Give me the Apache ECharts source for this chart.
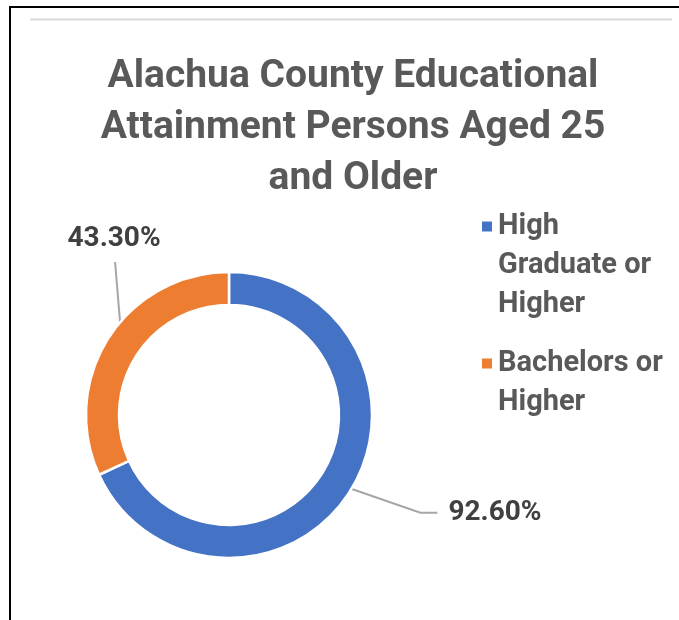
<!DOCTYPE html>
<html>
<head>
<meta charset="utf-8">
<script src="https://cdn.jsdelivr.net/npm/echarts@6/dist/echarts.min.js"></script>
<style>
  html, body { margin: 0; padding: 0; background: #fff; }
  #main { width: 679px; height: 620px; }
</style>
</head>
<body>
<div id="main"></div>
<script>
// data
const categories = ['High Graduate or Higher', 'Bachelors or Higher']
const legendLines = [['High', 'Graduate or', 'Higher'], ['Bachelors or', 'Higher']]
const values = [92.6, 43.3]
const valueLabels = ['92.60%', '43.30%']
const colors = ['#4472C4', '#ED7D31']

const chart = echarts.init(document.getElementById('main'))

const font = 'Roboto'
const legendLineH = 39

// legend icon sits on the first text line: pad with blank lines above
function legendFor(i, top) {
  const lines = legendLines[i]
  const pad = new Array(lines.length - 1).fill(' ')
  return {
    data: [categories[i]],
    left: 475,
    top: top,
    orient: 'vertical',
    selectedMode: false,
    icon: 'rect',
    itemWidth: 12,
    itemHeight: 12,
    formatter: () => pad.concat(lines).join('\n'),
    textStyle: {
      fontFamily: font,
      fontWeight: 'bold',
      fontSize: 29,
      lineHeight: legendLineH,
      color: '#595959'
    }
  }
}

chart.setOption({
  backgroundColor: '#fff',
  color: colors,
  animation: false,
  title: {
    text: 'Alachua County Educational\nAttainment Persons Aged 25\nand Older',
    left: 348,
    top: 47,
    textAlign: 'center',
    textStyle: {
      fontFamily: font,
      fontWeight: 'bold',
      fontSize: 39,
      lineHeight: 51,
      color: '#595959'
    }
  },
  legend: [legendFor(0, 124), legendFor(1, 300)],
  graphic: [
    { type: 'line', shape: { x1: 9, y1: 7, x2: 679, y2: 7 }, style: { stroke: '#000', lineWidth: 2 } },
    { type: 'line', shape: { x1: 10, y1: 7, x2: 10, y2: 620 }, style: { stroke: '#000', lineWidth: 2 } },
    { type: 'line', shape: { x1: 30, y1: 19.5, x2: 672, y2: 19.5 }, style: { stroke: '#D9D9D9', lineWidth: 2 } }
  ],
  series: [{
    type: 'pie',
    radius: [110, 143],
    center: [229, 415],
    startAngle: 90,
    clockwise: true,
    avoidLabelOverlap: false,
    itemStyle: { borderColor: '#fff', borderWidth: 2.5 },
    label: {
      show: true,
      formatter: (p) => valueLabels[p.dataIndex],
      fontFamily: font,
      fontWeight: 'bold',
      fontSize: 28,
      color: '#404040',
      distanceToLabelLine: 5
    },
    labelLine: {
      show: true,
      length: 38,
      length2: 62,
      lineStyle: { color: '#A6A6A6', width: 2 }
    },
    labelLayout: function (p) {
      const pts = p.labelLinePoints
      if (!pts) return {}
      const dx = pts[1][0] - pts[0][0]
      const dy = pts[1][1] - pts[0][1]
      const len = Math.hypot(dx, dy) || 1
      // start the leader in the middle of the ring
      const start = [pts[0][0] - dx / len * 16, pts[0][1] - dy / len * 16]
      const r = p.labelRect
      if (p.dataIndex === 0) {
        const cy = r.y + r.height / 2
        return { labelLinePoints: [start, [r.x - 28, cy], [r.x - 11, cy]] }
      }
      const lx = start[0] - 8
      const ly = 239
      return {
        x: lx,
        y: ly,
        align: 'center',
        verticalAlign: 'middle',
        labelLinePoints: [start, [lx + 1, ly + 23]]
      }
    },
    data: categories.map((name, i) => ({ name: name, value: values[i] }))
  }]
})
</script>
</body>
</html>
